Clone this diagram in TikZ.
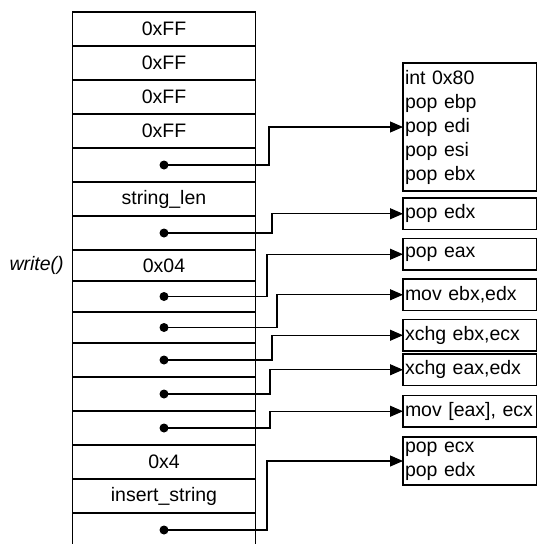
\documentclass[tikz,border=0pt]{standalone}
\usepackage{fontspec}
\setmainfont{Liberation Sans}
\usetikzlibrary{positioning,arrows.meta}

\begin{document}
\begin{tikzpicture}[
        x = 1pt, y = 1pt,
        node distance = 0pt,
        txt/.style    = {font=\fontsize{19.5}{24}\selectfont},
        cell/.style   = {rectangle, draw, line width=1.1pt, outer sep=0pt,
                         inner sep=0pt, minimum width=183.5pt,
                         minimum height=34pt, txt},
        gadget/.style = {rectangle, draw, line width=1.1pt, outer sep=0pt,
                         inner xsep=2pt, inner ysep=0pt, text width=129.5pt,
                         align=left, minimum height=31.5pt, txt},
        arr/.style    = {-{Triangle[length=13pt,width=11pt]}, line width=1.1pt}
    ]
    \useasboundingbox (0,0) rectangle (537,-544);

    % the stack, top to bottom
    \node[cell, anchor=north] (s1) at (164,-12) {0xFF};
    \node[cell, below=of s1] (s2)  {0xFF};
    \node[cell, below=of s2] (s3)  {0xFF};
    \node[cell, below=of s3] (s4)  {0xFF};
    \node[cell, below=of s4] (s5)  {};
    \node[cell, below=of s5] (s6)  {string\_len};
    \node[cell, below=of s6] (s7)  {};
    \node[cell, below=of s7, minimum height=31pt] (s8)  {0x04};
    \node[cell, below=of s8, minimum height=31pt] (s9)  {};
    \node[cell, below=of s9, minimum height=31pt] (s10) {};
    \node[cell, below=of s10] (s11) {};
    \node[cell, below=of s11] (s12) {};
    \node[cell, below=of s12] (s13) {};
    \node[cell, below=of s13] (s14) {0x4};
    \node[cell, below=of s14] (s15) {insert\_string};
    \node[cell, below=of s15] (s16) {};
    \node[txt, font=\fontsize{19.5}{24}\selectfont\itshape, left=5pt of s8] (call) {write()};

    % gadgets
    \node[gadget, minimum height=128pt, anchor=north west] (g1) at (403,-63)
        {int 0x80\\pop ebp\\pop edi\\pop esi\\pop ebx};
    \node[gadget, below=7pt of g1]  (g2) {pop edx};
    \node[gadget, below=9pt of g2]  (g3) {pop eax};
    \node[gadget, below=9pt of g3]  (g4) {mov ebx,edx};
    \node[gadget, below=9pt of g4]  (g5) {xchg ebx,ecx};
    \node[gadget, below=3pt of g5]  (g6) {xchg eax,edx};
    \node[gadget, below=10pt of g6] (g7) {\mbox{mov [eax], ecx}};
    \node[gadget, minimum height=48pt, below=10pt of g7] (g8) {pop ecx\\pop edx};

    % return addresses
    \fill (s5.center)  circle (4.5);
    \fill (s7.center)  circle (4.5);
    \fill (s9.center)  circle (4.5);
    \fill (s10.center) circle (4.5);
    \fill (s11.center) circle (4.5);
    \fill (s12.center) circle (4.5);
    \fill (s13.center) circle (4.5);
    \fill (s16.center) circle (4.5);
    \draw[arr] (s5.center)  -- ++(105,0) |- (g1.west);
    \draw[arr] (s7.center)  -- ++(108,0) |- (g2.west);
    \draw[arr] (s9.center)  -- ++(103,0) |- (g3.west);
    \draw[arr] (s10.center) -- ++(113,0) |- (g4.west);
    \draw[arr] (s11.center) -- ++(108,0) |- (g5.west);
    \draw[arr] (s12.center) -- ++(106,0) |- (g6.west);
    \draw[arr] (s13.center) -- ++(106,0) |- (g7.west);
    \draw[arr] (s16.center) -- ++(103,0) |- (g8.west);
\end{tikzpicture}
\end{document}
